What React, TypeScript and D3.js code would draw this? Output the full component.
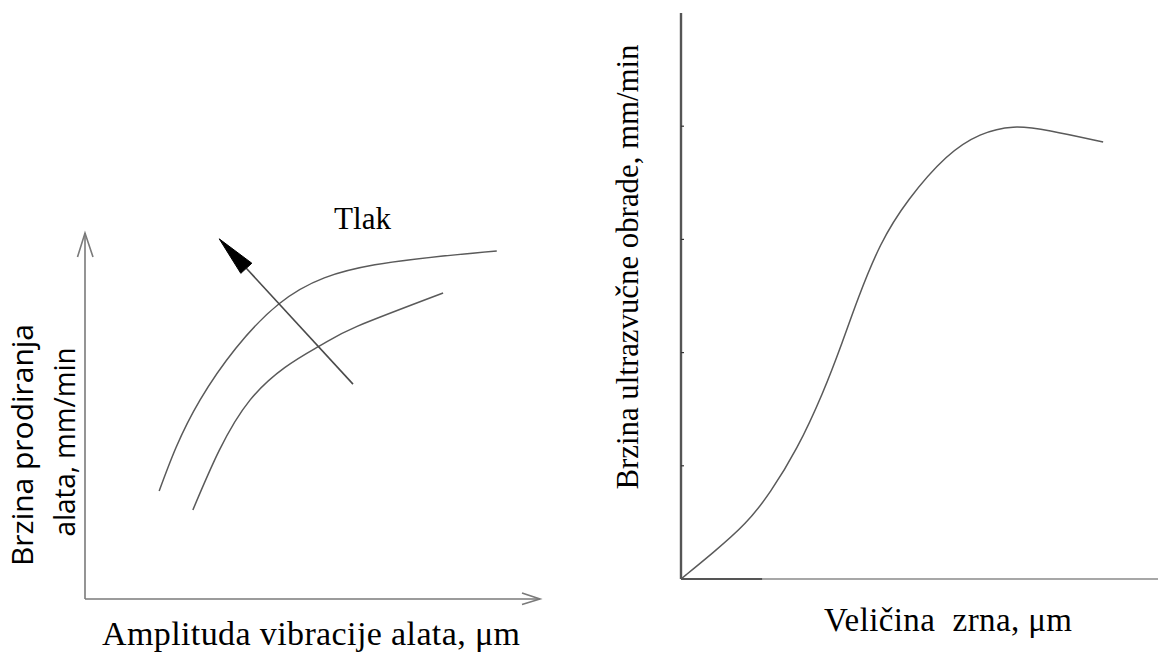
import React from "react";
import * as d3 from "d3";

// ---------- Left chart data (abstract units 0..100) ----------
const upperAmplitude = [16.3, 25.3, 42.6, 63.7, 90.5];
const upperRate = [29.5, 54.4, 80.6, 91.3, 95.1];
const lowerAmplitude = [23.7, 36.3, 51.2, 59.8, 78.7];
const lowerRate = [24.3, 54.4, 68.9, 74.5, 83.6];
const pressureArrowX = [58.9, 29.5];
const pressureArrowY = [58.7, 98.4];
const pressureLabel = "Tlak";
const leftXLabel = "Amplituda vibracije alata, μm";
const leftYLabel = ["Brzina prodiranja", "alata, mm/min"];

// ---------- Right chart data ----------
const grainSize = [0, 6.7, 13.8, 18.7, 24.3, 29.8, 34.0, 36.9, 41.7, 47.4, 55.8, 62.7, 69.6, 76.7, 88.5];
const removalRate = [0, 0.23, 0.49, 0.76, 1.14, 1.64, 2.11, 2.46, 2.97, 3.35, 3.76, 3.94, 4.01, 3.97, 3.86];
const rightYTicks = [1, 2, 3, 4];
const rightXLabel = "Veličina  zrna, μm";
const rightYLabel = "Brzina ultrazvučne obrade, mm/min";

const W = 1158;
const H = 654;

export default function App() {
  // left scales
  const lx = d3.scaleLinear().domain([0, 100]).range([85, 540]);
  const ly = d3.scaleLinear().domain([0, 100]).range([599, 233]);
  // right scales
  const rx = d3.scaleLinear().domain([0, 100]).range([681, 1158]);
  const ry = d3.scaleLinear().domain([0, 5]).range([579, 13]);

  const leftLine = d3
    .line<[number, number]>()
    .x((d) => lx(d[0]))
    .y((d) => ly(d[1]))
    .curve(d3.curveNatural);
  const rightLine = d3
    .line<[number, number]>()
    .x((d) => rx(d[0]))
    .y((d) => ry(d[1]))
    .curve(d3.curveBasis);

  const upper = upperAmplitude.map((x, i) => [x, upperRate[i]] as [number, number]);
  const lower = lowerAmplitude.map((x, i) => [x, lowerRate[i]] as [number, number]);
  const rightPts = grainSize.map((x, i) => [x, removalRate[i]] as [number, number]);

  // pressure arrow
  const ax0 = lx(pressureArrowX[0]);
  const ay0 = ly(pressureArrowY[0]);
  const ax1 = lx(pressureArrowX[1]);
  const ay1 = ly(pressureArrowY[1]);
  const len = Math.hypot(ax1 - ax0, ay1 - ay0);
  const ux = (ax1 - ax0) / len;
  const uy = (ay1 - ay0) / len;
  const headLen = 40;
  const headHalf = 7.5;
  const bx = ax1 - ux * headLen;
  const by = ay1 - uy * headLen;
  const head = `M${ax1},${ay1} L${bx - uy * headHalf},${by + ux * headHalf} L${bx + uy * headHalf},${by - ux * headHalf} Z`;

  // axis arrows (left)
  const x0 = lx(0), x1 = lx(100), y0 = ly(0), y1 = ly(100);

  const serif = "'Liberation Serif', 'Times New Roman', serif";
  const sans = "'Open Sans', 'Noto Sans', sans-serif";

  return (
    <svg
      width={W}
      height={H}
      viewBox={`0 0 ${W} ${H}`}
      style={{ position: "absolute", left: 0, top: 0, background: "#fff" }}
    >
      <rect x={0} y={0} width={W} height={H} fill="#fff" />

      {/* ---------- LEFT CHART ---------- */}
      <g fill="none" stroke="#7a7a7a" strokeWidth={1.6}>
        <line x1={x0} y1={y0} x2={x0} y2={y1} />
        <line x1={x0} y1={y0} x2={x1} y2={y0} />
        <polyline points={`${x0 - 7.5},${y1 + 24} ${x0},${y1} ${x0 + 8},${y1 + 24}`} />
        <polyline points={`${x1 - 18},${y0 - 6} ${x1},${y0} ${x1 - 18},${y0 + 5.5}`} />
      </g>
      <path d={leftLine(upper) || ""} fill="none" stroke="#5a5a5a" strokeWidth={1.5} />
      <path d={leftLine(lower) || ""} fill="none" stroke="#5a5a5a" strokeWidth={1.5} />
      <line x1={ax0} y1={ay0} x2={bx} y2={by} stroke="#4a4a4a" strokeWidth={1.6} />
      <path d={head} fill="#000" stroke="#000" strokeWidth={1} />
      <text x={334} y={229} fontFamily={serif} fontSize={31} fill="#000" textLength={57} lengthAdjust="spacingAndGlyphs">
        {pressureLabel}
      </text>
      <text x={102} y={645} fontFamily={serif} fontSize={34} fill="#000" textLength={418} lengthAdjust="spacing">
        {leftXLabel}
      </text>
      <text
        transform="translate(33,445) rotate(-90)"
        textAnchor="middle"
        fontFamily={sans}
        fontSize={29}
        fill="#000"
        textLength={242}
        lengthAdjust="spacingAndGlyphs"
      >
        {leftYLabel[0]}
      </text>
      <text
        transform="translate(75,442) rotate(-90)"
        textAnchor="middle"
        fontFamily={sans}
        fontSize={29}
        fill="#000"
        textLength={189}
        lengthAdjust="spacingAndGlyphs"
      >
        {leftYLabel[1]}
      </text>

      {/* ---------- RIGHT CHART ---------- */}
      <line x1={rx(0)} y1={ry(0)} x2={rx(100)} y2={ry(0)} stroke="#8a8a8a" strokeWidth={1.4} />
      <line x1={rx(0)} y1={ry(0)} x2={rx(17)} y2={ry(0)} stroke="#555" strokeWidth={2} />
      <line x1={rx(0)} y1={ry(0)} x2={rx(0)} y2={ry(5)} stroke="#555" strokeWidth={2.4} />
      {rightYTicks.map((t) => (
        <line key={t} x1={rx(0)} y1={ry(t)} x2={rx(0) + 3} y2={ry(t)} stroke="#333" strokeWidth={1.2} />
      ))}
      <path d={rightLine(rightPts) || ""} fill="none" stroke="#5a5a5a" strokeWidth={1.5} />
      <text
        x={824}
        y={631}
        fontFamily={serif}
        fontSize={33}
        fill="#000"
        textLength={248}
        lengthAdjust="spacing"
        style={{ whiteSpace: "pre" }}
      >
        {rightXLabel}
      </text>
      <text
        transform="translate(638,267) rotate(-90)"
        textAnchor="middle"
        fontFamily={serif}
        fontSize={32}
        fill="#000"
        textLength={445}
        lengthAdjust="spacingAndGlyphs"
      >
        {rightYLabel}
      </text>
    </svg>
  );
}
